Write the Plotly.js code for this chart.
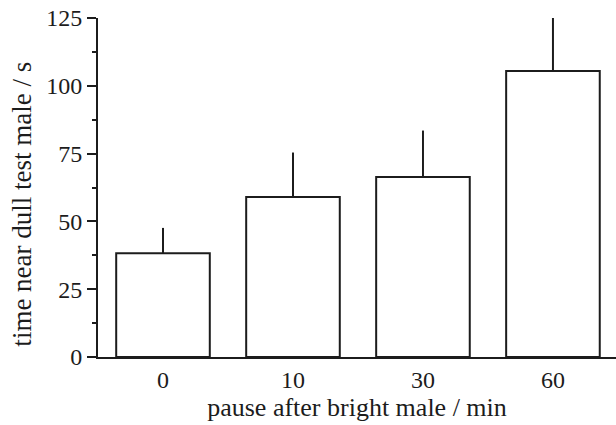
<!DOCTYPE html>
<html>
<head>
<meta charset="utf-8">
<script src="https://cdn.plot.ly/plotly-3.0.1.min.js"></script>
<style>html,body{margin:0;padding:0;background:#fff;}#chart{width:616px;height:425px;}</style>
</head>
<body>
<div id="chart"></div>
<script>
var categories = ["0", "10", "30", "60"];
var meanTime = [38.3, 59.0, 66.4, 105.5];
var errorUpper = [9.3, 16.4, 17.1, 20.3];
var yTickVals = [0, 25, 50, 75, 100, 125];
var xTitle = "pause after bright male / min";
var yTitle = "time near dull test male / s";

var ink = "#1c1c1c";
var fontFam = "Liberation Serif, Times New Roman, serif";

var trace = {
  type: "bar",
  x: categories,
  y: meanTime,
  width: 0.72,
  marker: {color: "#ffffff", line: {color: ink, width: 2}},
  error_y: {type: "data", symmetric: false, array: errorUpper, arrayminus: [0,0,0,0], width: 0, thickness: 2, color: ink},
  cliponaxis: false,
  hoverinfo: "none"
};

var layout = {
  width: 616, height: 425,
  margin: {l: 98, r: 0, t: 18, b: 68, pad: 0},
  paper_bgcolor: "#fff", plot_bgcolor: "#fff",
  showlegend: false,
  font: {family: fontFam, color: ink, size: 24},
  xaxis: {
    type: "category",
    range: [-0.5, 3.485],
    showline: true, linecolor: ink, linewidth: 2,
    ticks: "", showgrid: false, zeroline: false,
    tickfont: {family: fontFam, size: 24, color: ink},
    title: {text: xTitle, font: {family: fontFam, size: 26, color: ink}, standoff: 4}
  },
  yaxis: {
    range: [0, 125],
    tickvals: yTickVals,
    ticktext: yTickVals.map(String),
    showline: true, linecolor: ink, linewidth: 2,
    ticks: "outside", ticklen: 9, tickwidth: 2, tickcolor: ink,
    minor: {tickvals: [12.5, 37.5, 62.5, 87.5, 112.5], ticks: "outside", ticklen: 4, tickwidth: 2, tickcolor: ink},
    showgrid: false, zeroline: false,
    tickfont: {family: fontFam, size: 24, color: ink}
  },
  annotations: [{
    text: yTitle, textangle: -90, showarrow: false,
    xref: "paper", yref: "paper",
    x: -0.147, y: 0.452, xanchor: "center", yanchor: "middle",
    font: {family: fontFam, size: 27, color: ink}
  }]
};

Plotly.newPlot("chart", [trace], layout, {staticPlot: true, displayModeBar: false});
</script>
</body>
</html>
